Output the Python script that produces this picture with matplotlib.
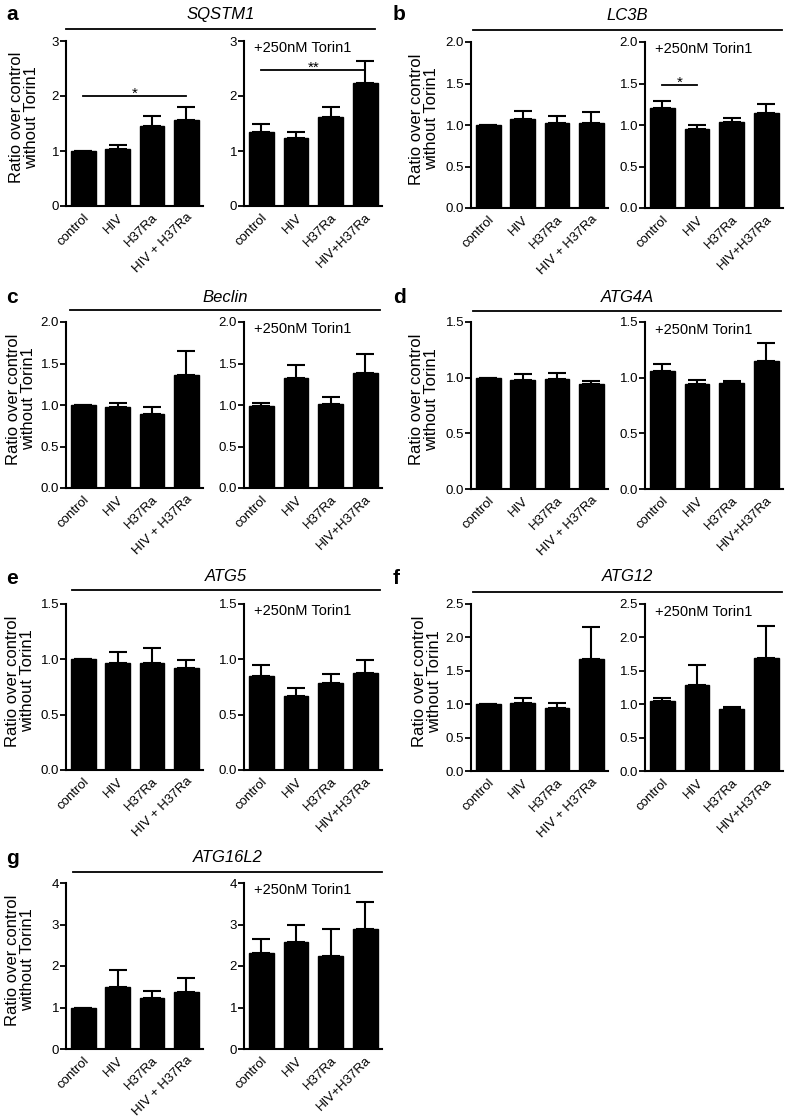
import numpy as np
import matplotlib
matplotlib.use("Agg")
import matplotlib.pyplot as plt
from matplotlib.lines import Line2D

plt.rcParams['font.family'] = ['Liberation Sans', 'DejaVu Sans']

# ---- data ----
genes = ["SQSTM1", "LC3B", "Beclin", "ATG4A", "ATG5", "ATG12", "ATG16L2"]
letters = ["a", "b", "c", "d", "e", "f", "g"]
labels_left = ["control", "HIV", "H37Ra", "HIV + H37Ra"]
labels_right = ["control", "HIV", "H37Ra", "HIV+H37Ra"]
torin_text = "+250nM Torin1"
ylabel_text = "Ratio over control\nwithout Torin1"

ctrl_mean = {
    "SQSTM1": [1.0, 1.03, 1.46, 1.57],
    "LC3B": [1.0, 1.07, 1.02, 1.03],
    "Beclin": [1.0, 0.97, 0.89, 1.36],
    "ATG4A": [1.0, 0.98, 0.985, 0.94],
    "ATG5": [1.0, 0.97, 0.97, 0.92],
    "ATG12": [1.0, 1.02, 0.94, 1.68],
    "ATG16L2": [1.0, 1.50, 1.22, 1.37],
}
ctrl_err = {
    "SQSTM1": [0, 0.08, 0.18, 0.23],
    "LC3B": [0, 0.10, 0.09, 0.13],
    "Beclin": [0, 0.05, 0.09, 0.29],
    "ATG4A": [0, 0.05, 0.06, 0.03],
    "ATG5": [0, 0.10, 0.13, 0.07],
    "ATG12": [0, 0.07, 0.08, 0.48],
    "ATG16L2": [0, 0.40, 0.18, 0.33],
}
torin_mean = {
    "SQSTM1": [1.34, 1.24, 1.61, 2.24],
    "LC3B": [1.20, 0.95, 1.04, 1.15],
    "Beclin": [0.99, 1.32, 1.01, 1.39],
    "ATG4A": [1.06, 0.94, 0.95, 1.15],
    "ATG5": [0.85, 0.67, 0.79, 0.88],
    "ATG12": [1.05, 1.29, 0.925, 1.69],
    "ATG16L2": [2.31, 2.59, 2.25, 2.88],
}
torin_err = {
    "SQSTM1": [0.15, 0.10, 0.19, 0.39],
    "LC3B": [0.09, 0.05, 0.05, 0.10],
    "Beclin": [0.03, 0.16, 0.09, 0.23],
    "ATG4A": [0.06, 0.04, 0.02, 0.16],
    "ATG5": [0.10, 0.07, 0.08, 0.11],
    "ATG12": [0.04, 0.29, 0.03, 0.48],
    "ATG16L2": [0.35, 0.39, 0.64, 0.67],
}
ymax = {"SQSTM1": 3, "LC3B": 2.0, "Beclin": 2.0, "ATG4A": 1.5,
        "ATG5": 1.5, "ATG12": 2.5, "ATG16L2": 4}
ystep = {"SQSTM1": 1, "LC3B": 0.5, "Beclin": 0.5, "ATG4A": 0.5,
         "ATG5": 0.5, "ATG12": 0.5, "ATG16L2": 1}
# significance brackets: (gene, side, x0, x1, y, stars)
sig = [("SQSTM1", "ctrl", 0, 3, 2.0, "*"),
       ("SQSTM1", "torin", 0, 3, 2.47, "**"),
       ("LC3B", "torin", 0, 1, 1.48, "*")]

# ---- layout in pixels ----
W, H = 787, 1120
LEFT_COL = ((66, 203), (244, 382))
RIGHT_COL = ((471, 608), (645, 783))
# gene: columns, top, bottom, title line (x0,x1,y), title y, letter (x,y), ylabel x
layout = {
    "SQSTM1": (LEFT_COL, 41, 206, (66, 375, 29), 15, (6, 14), 24),
    "LC3B": (RIGHT_COL, 42, 208, (473, 782, 30), 15, (393, 14), 424),
    "Beclin": (LEFT_COL, 322, 488, (70, 380, 310), 297, (6, 297), 21),
    "ATG4A": (RIGHT_COL, 322, 489, (473, 781, 311), 297, (393, 297), 424),
    "ATG5": (LEFT_COL, 604, 770, (72, 380, 590), 577, (6, 578), 20),
    "ATG12": (RIGHT_COL, 604, 771, (473, 782, 592), 577, (393, 578), 427),
    "ATG16L2": (LEFT_COL, 883, 1049, (73, 382, 872), 858, (6, 858), 20),
}

fig = plt.figure(figsize=(W / 100, H / 100), dpi=100)


def fx(x):
    return x / W


def fy(y):
    return 1 - y / H


def draw_bars(ax, means, errs, labels, top, step):
    x = np.arange(len(means))
    ax.bar(x, means, width=0.72, color="black", edgecolor="black", zorder=2)
    lower = np.zeros(len(errs))
    ax.errorbar(x, means, yerr=[lower, errs], fmt="none", ecolor="black",
                elinewidth=1.5, capsize=6.5, capthick=1.5, zorder=1)
    ax.set_xlim(-0.5, 3.48)
    ax.set_ylim(0, top)
    ticks = np.arange(0, top + step / 2, step)
    ax.set_yticks(ticks)
    if step >= 1:
        ax.set_yticklabels([f"{t:.0f}" for t in ticks])
    else:
        ax.set_yticklabels([f"{t:.1f}" for t in ticks])
    ax.set_xticks(x)
    ax.set_xticklabels(labels, rotation=45, ha="right", rotation_mode="anchor",
                       fontsize=9.5)
    ax.tick_params(axis="x", length=0, pad=4)
    ax.tick_params(axis="y", direction="out", length=4, width=1.3, labelsize=9.5, pad=1)
    for s in ["top", "right"]:
        ax.spines[s].set_visible(False)
    for s in ["left", "bottom"]:
        ax.spines[s].set_linewidth(1.5)
    ax.patch.set_alpha(0)


for g, let in zip(genes, letters):
    ((l0, l1), (r0, r1)), top, bot, (tl0, tl1, tly), ty, (lx, ly), ylx = layout[g]
    axL = fig.add_axes([fx(l0), fy(bot), (l1 - l0) / W, (bot - top) / H])
    axR = fig.add_axes([fx(r0), fy(bot), (r1 - r0) / W, (bot - top) / H])
    draw_bars(axL, ctrl_mean[g], ctrl_err[g], labels_left, ymax[g], ystep[g])
    draw_bars(axR, torin_mean[g], torin_err[g], labels_right, ymax[g], ystep[g])
    axR.text(0.07, 0.955, torin_text, transform=axR.transAxes, fontsize=10.5,
             ha="left", va="center")

    # gene title with line
    fig.add_artist(Line2D([fx(tl0), fx(tl1)], [fy(tly), fy(tly)], color="black", lw=1.3))
    fig.text(fx((tl0 + tl1) / 2), fy(ty), g, fontsize=12, style="italic",
             ha="center", va="center")
    fig.text(fx(lx), fy(ly), let, fontsize=15, weight="bold", ha="left", va="center")
    fig.text(fx(ylx), fy((top + bot) / 2 - 6), ylabel_text, fontsize=12,
             rotation=90, ha="center", va="center", linespacing=1.0)

    for sg, side, x0, x1, yv, stars in sig:
        if sg != g:
            continue
        ax = axL if side == "ctrl" else axR
        ax.plot([x0, x1], [yv, yv], color="black", lw=1.3)
        ax.annotate(stars, xy=((x0 + x1) / 2, yv), xytext=(0, 1.5),
                    textcoords="offset points", ha="center", va="center",
                    fontsize=11)

fig.savefig("out.png", dpi=100, facecolor="white")
